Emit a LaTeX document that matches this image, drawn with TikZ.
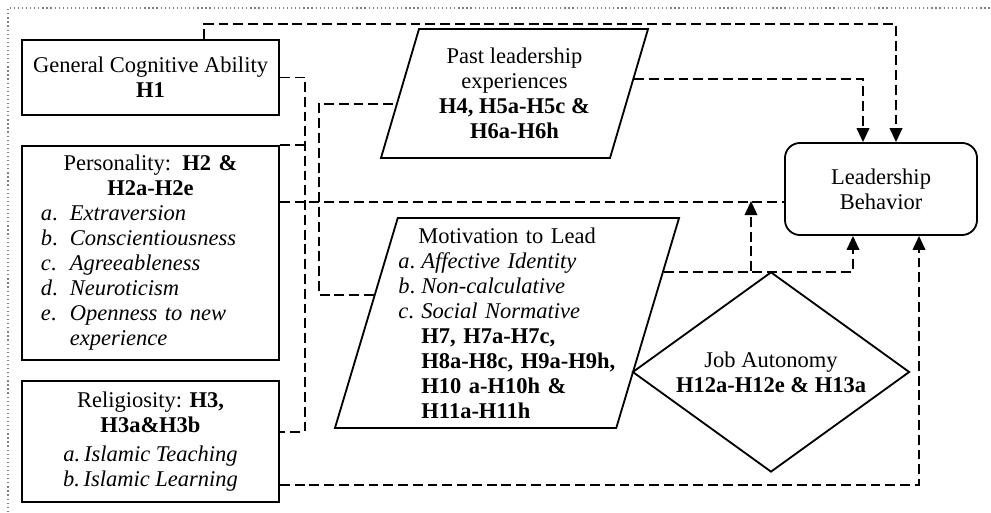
\documentclass[tikz,border=0pt]{standalone}
\usepackage{fontspec}
\setmainfont{Liberation Serif}
\usetikzlibrary{shapes.geometric, arrows.meta, positioning}
\newcommand{\litem}[3]{\makebox[#1][l]{\textit{#2}.}\textit{#3}}
\tikzset{
  cf/txt/.style={font=\fontsize{16}{17.8}\selectfont},
  cf/box/.style={rectangle, draw, line width=1.3pt, cf/txt,
    minimum width=6.425cm, inner sep=0pt, align=center},
  cf/para/.style={trapezium, trapezium stretches body, draw, line width=1.3pt,
    cf/txt, inner sep=0pt},
  cf/outcome/.style={rectangle, rounded corners=0.375cm, draw, line width=1.3pt,
    cf/txt, minimum width=4.8cm, minimum height=2.3cm, align=center},
  cf/mod/.style={diamond, draw, line width=1.3pt, cf/txt, aspect=1.385,
    inner sep=0pt, minimum width=6.925cm, minimum height=5cm, align=center},
  cf/link/.style={line width=1.3pt, dash pattern=on 7pt off 3.5pt},
  cf/arr/.style={cf/link, -{Triangle[length=10pt,width=9pt]}},
  cf/frame/.style={gray, line width=0.9pt, dotted}
}

\begin{document}
\begin{tikzpicture}[x=0.025cm, y=-0.025cm]
  \useasboundingbox (0,0) rectangle (991,512);
  \draw[cf/frame] (8,512) -- (8,8) -- (991,8);

  % predictors
  \node[cf/box, minimum height=1.875cm] (gca) at (150.5,77.5)
    {General Cognitive Ability\\\textbf{H1}};
  \node[cf/box, minimum height=5.35cm, text width=5.475cm, align=left,
    below=0.725cm of gca] (pers)
    {\centering Personality: \textbf{H2 \&}\\\textbf{H2a-H2e}\par\raggedright
     \litem{0.725cm}{a}{Extraversion}\\
     \litem{0.725cm}{b}{Conscientiousness}\\
     \litem{0.725cm}{c}{Agreeableness}\\
     \litem{0.725cm}{d}{Neuroticism}\\
     \litem{0.725cm}{e}{Openness to new}\\
     \hspace*{0.725cm}\textit{experience}};
  \node[cf/box, minimum height=3.025cm, below=0.475cm of pers] (relig)
    {Religiosity: \textbf{H3,}\\\textbf{H3a\&H3b}\\[3pt]
     \textit{a.\,Islamic Teaching}\\\textit{b.\,Islamic Learning}};

  % mediators
  \node[cf/para, trapezium left angle=67.3, trapezium right angle=112.7,
    minimum width=6.675cm, minimum height=3.225cm, align=center]
    (ple) at (514.5,93.5)
    {Past leadership\\experiences\\\textbf{H4, H5a-H5c \&}\\\textbf{H6a-H6h}};
  \node[cf/para, trapezium left angle=71.8, trapezium right angle=108.2,
    minimum width=8.6cm, minimum height=5.25cm, text width=5.425cm,
    align=left] (mtl) at (507,323)
    {\centering Motivation to Lead\par\raggedright
     \litem{0.575cm}{a}{Affective Identity}\\
     \litem{0.575cm}{b}{Non-calculative}\\
     \litem{0.575cm}{c}{Social Normative}\\
     \hspace*{0.575cm}\textbf{H7, H7a-H7c,}\\
     \hspace*{0.575cm}\textbf{H8a-H8c, H9a-H9h,}\\
     \hspace*{0.575cm}\textbf{H10 a-H10h \&}\\
     \hspace*{0.575cm}\textbf{H11a-H11h}};

  % outcome and moderator
  \node[cf/outcome] (lb) at (881,189) {Leadership\\Behavior};
  \node[cf/mod] (ja) at (771,372) {Job Autonomy\\\textbf{H12a-H12e \& H13a}};

  % links
  \draw[cf/arr] ([xshift=1.34cm]gca.north) -- ++(0,-15) -| ([xshift=0.375cm]lb.north);
  \draw[cf/arr] (ple.7) -| ([xshift=-0.45cm]lb.north);
  \draw[cf/link] (gca.east) -- ++(25,0) |- ([yshift=0.24cm]relig.east);
  \draw[cf/link] (pers.north east) -- ++(25,0);
  \draw[cf/link] (mtl.168) -- ++(-55,0) |- (ple.185);
  \draw[cf/link] ([yshift=1.275cm]pers.east) -- ([yshift=1.275cm]pers.east -| lb.west);
  \draw[cf/arr] (mtl.18) -| ([xshift=-0.7cm]lb.south);
  \draw[cf/arr] ([xshift=-0.5cm]ja.north) -- ++(0,-70);
  \draw[cf/arr] ([yshift=-1.0875cm]relig.east) -| ([xshift=0.95cm]lb.south);
\end{tikzpicture}
\end{document}
